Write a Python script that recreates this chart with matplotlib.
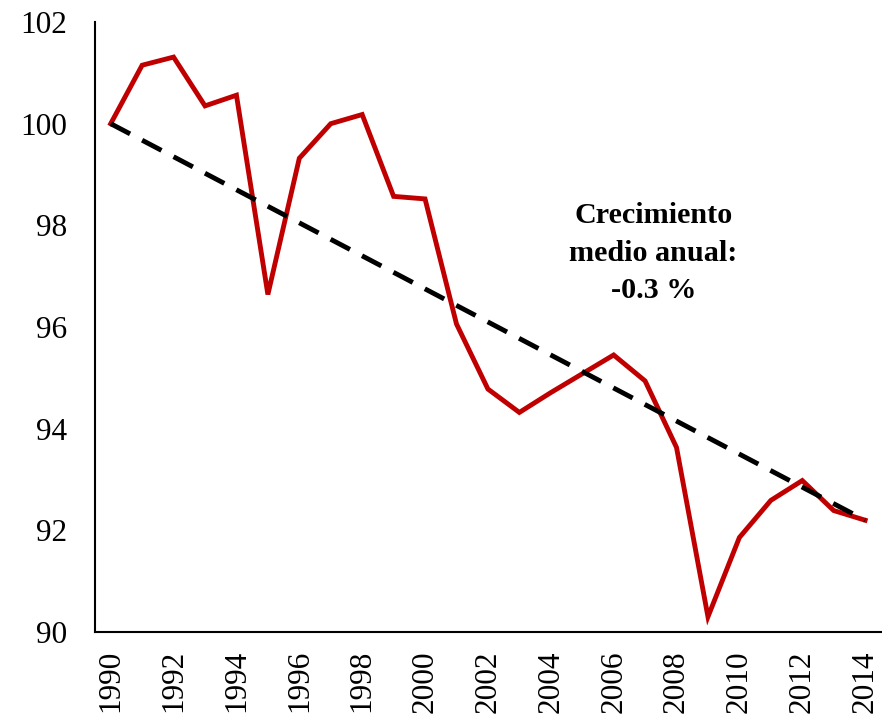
import matplotlib
matplotlib.use("Agg")
from matplotlib import pyplot as plt

# data
years = list(range(1990, 2015))
index_values = [100.0, 101.15, 101.31, 100.35, 100.56, 96.64, 99.32, 100.0, 100.18,
                98.57, 98.52, 96.06, 94.78, 94.32, 94.71, 95.08, 95.45, 94.94,
                93.63, 90.30, 91.86, 92.59, 92.98, 92.39, 92.20]
trend_years = [1990, 2014]
trend_values = [100.0, 92.2]
y_ticks = [90, 92, 94, 96, 98, 100, 102]
x_ticks = list(range(1990, 2015, 2))
note = "Crecimiento\nmedio anual:\n-0.3 %"

plt.rcParams["font.family"] = ["Liberation Serif", "DejaVu Serif"]

fig = plt.figure(figsize=(8.82, 7.17), dpi=100)
ax = fig.add_axes([0.1077, 0.1185, 0.891, 0.8508])

ax.plot(years, index_values, color="#C00000", linewidth=3.5, solid_joinstyle="miter", zorder=2)
ax.plot(trend_years, trend_values, color="black", linewidth=3.5, dashes=(4.5, 2.8), zorder=3)

ax.set_xlim(1989.5, 2014.5)
ax.set_ylim(90, 102)
ax.set_yticks(y_ticks)
ax.set_xticks(x_ticks)
ax.set_xticklabels([str(x) for x in x_ticks], rotation=90)
ax.tick_params(axis="both", length=0, labelsize=22.5)
ax.tick_params(axis="y", pad=20)
ax.tick_params(axis="x", pad=13)

for side in ("top", "right"):
    ax.spines[side].set_visible(False)
for side in ("left", "bottom"):
    ax.spines[side].set_linewidth(1.5)

ax.text(2007.27, 97.45, note, ha="center", va="center", fontsize=21.7,
        fontweight="bold", linespacing=1.5)

fig.savefig("out.png", dpi=100)
